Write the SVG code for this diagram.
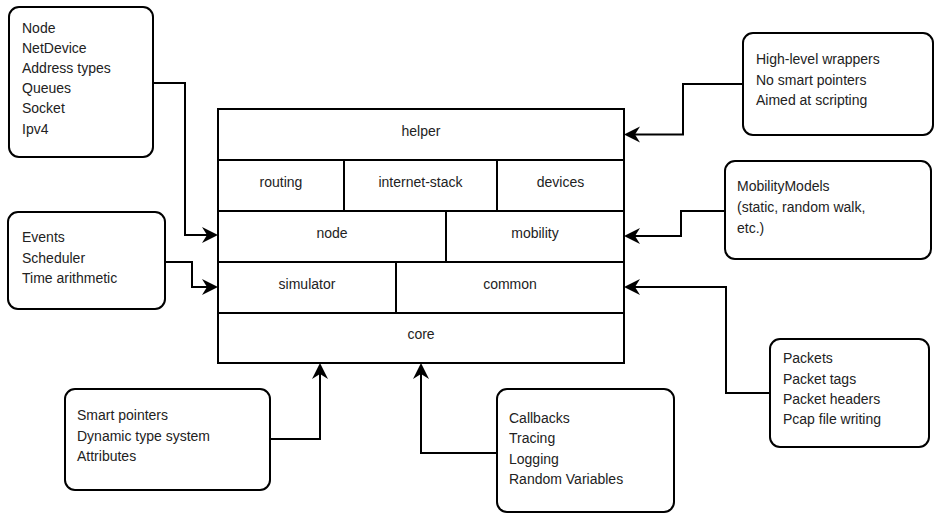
<svg xmlns="http://www.w3.org/2000/svg" width="935" height="516" viewBox="0 0 935 516">
<defs>
<marker id="arr" viewBox="0 0 18 18" markerWidth="18" markerHeight="18" refX="14" refY="9" orient="auto" markerUnits="userSpaceOnUse">
<path d="M17,9 L1,1 L6,9 L1,17 Z" fill="#000"/>
</marker>
<style>
.box{fill:#fff;stroke:#000;stroke-width:2}
.cell{fill:#fff;stroke:#000;stroke-width:2}
.t{font-family:"Liberation Sans",Arial,sans-serif;font-size:14px;fill:#222}
.c{text-anchor:middle}
.con{fill:none;stroke:#000;stroke-width:2;marker-end:url(#arr)}
</style>
</defs>
<rect width="935" height="516" fill="#fff"/>

<g id="connectors">
<path class="con" d="M153,83 H185 V235 H215"/>
<path class="con" d="M165,262 H192 V287 H215"/>
<path class="con" d="M270,439 H320 V366"/>
<path class="con" d="M497,453 H421 V366"/>
<path class="con" d="M770,393 H726 V287 H627"/>
<path class="con" d="M725,211 H681 V236 H627"/>
<path class="con" d="M743,84 H683 V134.5 H627"/>
</g>

<g id="stack">
<rect class="cell" x="218" y="109" width="406" height="254"/>
<path d="M218,160 H624 M218,211 H624 M218,262 H624 M218,313 H624 M344,160 V211 M497,160 V211 M446,211 V262 M396,262 V313" stroke="#000" stroke-width="2" fill="none"/>
<g id="helper"><text class="t c" x="421" y="136">helper</text></g>
<g id="routing"><text class="t c" x="281" y="187">routing</text></g>
<g id="internet-stack"><text class="t c" x="420.5" y="187">internet-stack</text></g>
<g id="devices"><text class="t c" x="560.5" y="187">devices</text></g>
<g id="node"><text class="t c" x="332" y="238">node</text></g>
<g id="mobility"><text class="t c" x="535" y="238">mobility</text></g>
<g id="simulator"><text class="t c" x="307" y="289">simulator</text></g>
<g id="common"><text class="t c" x="510" y="289">common</text></g>
<g id="core"><text class="t c" x="421" y="339">core</text></g>
</g>

<g id="node-notes">
<rect class="box" x="9" y="7" width="144" height="150" rx="10"/>
<text class="t" x="22" y="32.5">Node</text>
<text class="t" x="22" y="52.7">NetDevice</text>
<text class="t" x="22" y="72.9">Address types</text>
<text class="t" x="22" y="93.1">Queues</text>
<text class="t" x="22" y="113.3">Socket</text>
<text class="t" x="22" y="133.5">Ipv4</text>
</g>

<g id="helper-notes">
<rect class="box" x="743" y="33" width="190" height="102" rx="10"/>
<text class="t" x="756" y="64">High-level wrappers</text>
<text class="t" x="756" y="84.5">No smart pointers</text>
<text class="t" x="756" y="105">Aimed at scripting</text>
</g>

<g id="mobility-notes">
<rect class="box" x="725" y="161" width="206" height="98" rx="10"/>
<text class="t" x="737" y="191">MobilityModels</text>
<text class="t" x="737" y="212">(static, random walk,</text>
<text class="t" x="737" y="233">etc.)</text>
</g>

<g id="simulator-notes">
<rect class="box" x="8" y="212" width="157" height="97" rx="10"/>
<text class="t" x="22" y="242.3">Events</text>
<text class="t" x="22" y="262.5">Scheduler</text>
<text class="t" x="22" y="282.7">Time arithmetic</text>
</g>

<g id="core-notes-1">
<rect class="box" x="65" y="389" width="205" height="101" rx="10"/>
<text class="t" x="77" y="420">Smart pointers</text>
<text class="t" x="77" y="440.5">Dynamic type system</text>
<text class="t" x="77" y="461">Attributes</text>
</g>

<g id="core-notes-2">
<rect class="box" x="497" y="389" width="177" height="123" rx="10"/>
<text class="t" x="509" y="422.5">Callbacks</text>
<text class="t" x="509" y="443">Tracing</text>
<text class="t" x="509" y="463.5">Logging</text>
<text class="t" x="509" y="484">Random Variables</text>
</g>

<g id="common-notes">
<rect class="box" x="770" y="339" width="159" height="108" rx="10"/>
<text class="t" x="783" y="363.3">Packets</text>
<text class="t" x="783" y="383.5">Packet tags</text>
<text class="t" x="783" y="403.7">Packet headers</text>
<text class="t" x="783" y="424">Pcap file writing</text>
</g>
</svg>
